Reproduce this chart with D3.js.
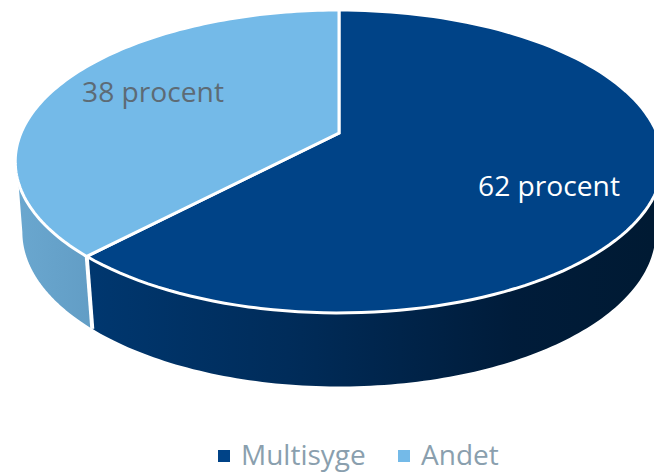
<!DOCTYPE html>
<html>
<head>
<meta charset="utf-8">
<script src="https://d3js.org/d3.v7.min.js"></script>
<style>
html, body { margin: 0; padding: 0; background: #fff; overflow: hidden; }
text { font-family: "Open Sans", sans-serif; }
</style>
</head>
<body>
<div id="chart"></div>
<script>
const categories = ['Multisyge', 'Andet'];
const values = [62, 38];
const labels = ['62 procent', '38 procent'];

const width = 654, height = 472;
const topColors = ['#004387', '#74bae8'];

const svg = d3.select('#chart').append('svg')
    .attr('width', width)
    .attr('height', height)
    .style('display', 'block');

// side gradients
const defs = svg.append('defs');
function sideGradient(id, x1, x2, stops) {
    const g = defs.append('linearGradient')
        .attr('id', id)
        .attr('gradientUnits', 'userSpaceOnUse')
        .attr('x1', x1).attr('x2', x2)
        .attr('y1', 0).attr('y2', 0);
    stops.forEach(s => g.append('stop').attr('offset', s[0]).attr('stop-color', s[1]));
}
sideGradient('side0', 90, 654, [[0, '#00376f'], [0.35, '#002c5a'], [0.75, '#001c3a'], [1, '#001a33']]);
sideGradient('side1', 17, 93, [[0, '#6aa7cf'], [1, '#629dc5']]);

// the pie is tilted with perspective so the centre sits above the middle of the ellipse
const k = 0.188;
function plane(cy, a, b) {
    return t => {
        const X = Math.sin(t), Y = -Math.cos(t);
        const w = 1 - k * Y;
        return [339 + b * X / w, cy + a * Y / w];
    };
}
const topPlane = plane(133, 146.1, 318);
const bottomPlane = plane(203, 149, 311);

const line = d3.line();
function arcPoints(fn, a0, a1) {
    return d3.range(0, 121).map(i => fn(a0 + (a1 - a0) * i / 120));
}

const pie = d3.pie().sort(null).value(d => d);
const slices = pie(values);

// the rim's outline leaves the top face a bit above where it meets the lower plane
const upperRange = [Math.PI - 1.244, Math.PI + 1.244];
const lowerRange = [Math.PI - 1.382, Math.PI + 1.382];

slices.forEach((d, i) => {
    const upper = arcPoints(topPlane, Math.max(d.startAngle, upperRange[0]), Math.min(d.endAngle, upperRange[1]));
    const lower = arcPoints(bottomPlane, Math.max(d.startAngle, lowerRange[0]), Math.min(d.endAngle, lowerRange[1])).reverse();
    svg.append('path')
        .attr('d', line(upper.concat(lower)) + 'Z')
        .attr('fill', `url(#side${i})`)
        .attr('stroke', 'none');
});

// white joint between the two rim parts
const joint = slices[0].endAngle;
svg.append('path')
    .attr('d', line([topPlane(joint), bottomPlane(joint)]))
    .attr('stroke', '#fff')
    .attr('stroke-width', 4)
    .attr('fill', 'none');

// top faces
slices.forEach((d, i) => {
    const pts = arcPoints(topPlane, d.startAngle, d.endAngle);
    pts.push([339, 133]);
    svg.append('path')
        .attr('d', line(pts) + 'Z')
        .attr('fill', topColors[i])
        .attr('stroke', '#fff')
        .attr('stroke-width', 3)
        .attr('stroke-linejoin', 'miter');
});

// data labels
svg.append('text').attr('x', 549).attr('y', 196)
    .attr('text-anchor', 'middle').attr('font-size', 28.2).attr('fill', '#fff').text(labels[0]);
svg.append('text').attr('x', 153).attr('y', 102)
    .attr('text-anchor', 'middle').attr('font-size', 28.2).attr('fill', '#5d6b75').text(labels[1]);

// legend
const legendX = [218, 398];
const legendTextX = [241, 421];
categories.forEach((c, i) => {
    svg.append('rect')
        .attr('x', legendX[i]).attr('y', 450)
        .attr('width', 12).attr('height', 12)
        .attr('fill', topColors[i]);
    svg.append('text')
        .attr('x', legendTextX[i]).attr('y', 465)
        .attr('font-size', 28).attr('fill', '#8a9fae').text(c);
});
</script>
</body>
</html>
